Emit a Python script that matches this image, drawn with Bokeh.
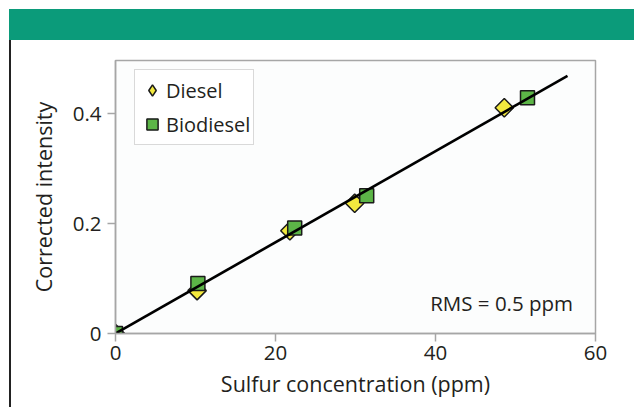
import math
from bokeh.plotting import figure
from bokeh.models import Div, Legend, LegendItem, Label, FixedTicker, Range1d
from bokeh.layouts import column
from bokeh.embed import file_html
from bokeh.resources import INLINE

# Data
diesel_x = [0, 10.2, 21.8, 29.9, 48.6]
diesel_y = [0, 0.078, 0.187, 0.237, 0.411]
bio_x = [0, 10.3, 22.4, 31.4, 51.5]
bio_y = [0, 0.091, 0.192, 0.251, 0.429]
fit_x = [0, 56.5]
fit_y = [0, 0.469]
x_ticks = [0, 20, 40, 60]
y_ticks = [0, 0.2, 0.4]
y_tick_labels = {0: "0", 0.2: "0.2", 0.4: "0.4"}

FONT = "Open Sans"
TXT = "#231f20"
GRAY = "#a6a6a6"

band = Div(width=625, height=31, margin=(9, 0, 0, 9),
           styles={"background-color": "#0b9b7a"})

p = figure(width=625, height=367, output_backend="svg", toolbar_location=None,
           x_range=Range1d(0, 60), y_range=Range1d(0, 0.497),
           min_border_left=104, min_border_right=41, min_border_top=20, min_border_bottom=74,
           background_fill_color="#fcfdfd", border_fill_color="white",
           margin=(0, 0, 0, 9))
p.styles = {"border-left": "2px solid #222222"}
p.grid.visible = False
p.outline_line_color = GRAY
p.outline_line_width = 1.5

for ax in (p.xaxis[0], p.yaxis[0]):
    ax.axis_line_color = GRAY
    ax.axis_line_width = 1.5
    ax.major_tick_line_color = GRAY
    ax.major_tick_line_width = 1.5
    ax.major_tick_in = 0
    ax.major_tick_out = 8
    ax.minor_tick_line_color = None
    ax.major_label_text_font = FONT
    ax.major_label_text_font_size = "20.5px"
    ax.major_label_text_color = TXT
    ax.axis_label_text_font = FONT
    ax.axis_label_text_font_size = "21.5px"
    ax.axis_label_text_font_style = "normal"
    ax.axis_label_text_color = TXT

p.xaxis.ticker = FixedTicker(ticks=x_ticks)
p.yaxis.ticker = FixedTicker(ticks=y_ticks)
p.yaxis.major_label_overrides = y_tick_labels
p.xaxis.axis_label = "Sulfur concentration (ppm)"
p.yaxis.axis_label = "Corrected intensity"
p.xaxis.major_label_standoff = 4
p.yaxis.major_label_standoff = 6
p.xaxis.axis_label_standoff = 6
p.yaxis.axis_label_standoff = 12

r_d = p.scatter(diesel_x, diesel_y, marker="square", angle=math.pi / 4, size=13,
                fill_color="#f3e93e", line_color="#1a1a1a", line_width=1.5)
r_b = p.scatter(bio_x, bio_y, marker="square", size=14,
                fill_color="#5cb547", line_color="#1a1a1a", line_width=1.5)
p.line(fit_x, fit_y, line_color="black", line_width=2.6)

# legend-only renderer (diamond symbol; legend glyphs are not rotated)
r_d_leg = p.scatter([float("nan")], [float("nan")], marker="diamond", size=13,
                    fill_color="#f3e93e", line_color="#1a1a1a", line_width=1.5)

legend = Legend(items=[LegendItem(label="Diesel", renderers=[r_d_leg]),
                       LegendItem(label="Biodiesel", renderers=[r_b])],
                location=(19, 188), padding=3, spacing=0,
                glyph_width=28, glyph_height=34, label_height=34, label_standoff=0,
                label_text_font=FONT, label_text_font_size="20px", label_text_color=TXT,
                border_line_color="#b3b3b3", border_line_width=1.5,
                background_fill_color="white", background_fill_alpha=1)
p.add_layout(legend, "center")

p.add_layout(Label(x=57.2, y=0.056, text="RMS = 0.5 ppm", text_align="right",
                   text_baseline="middle", text_font=FONT, text_font_size="20.5px",
                   text_color=TXT))

layout = column(band, p, spacing=0)
open("out.html", "w").write(file_html(layout, INLINE))
